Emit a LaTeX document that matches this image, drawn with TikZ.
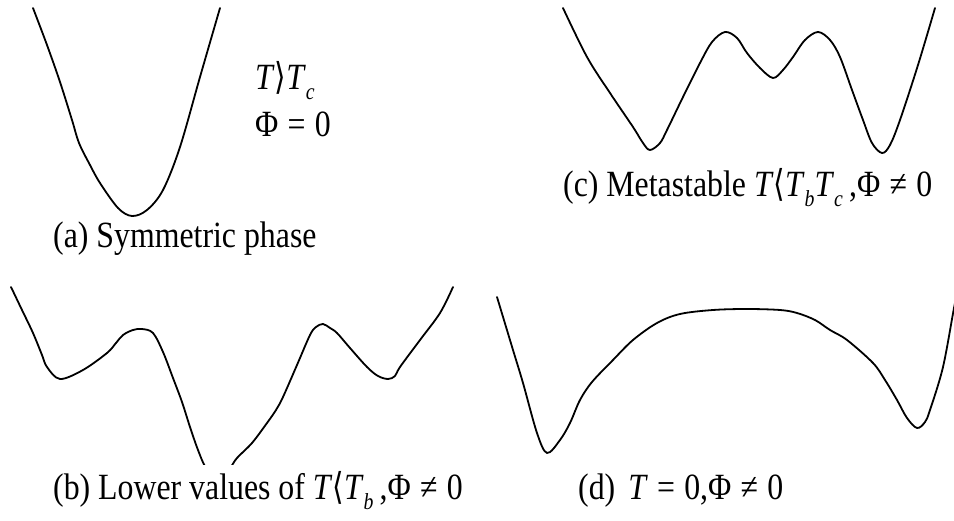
\documentclass[tikz,border=0pt]{standalone}
\usepackage{fontspec}
\setmainfont{Liberation Serif}[FakeStretch=0.86]
\newfontfamily\angfont{DejaVu Sans}[FakeStretch=0.8]
\usepackage{tikz}
\newcommand{\vT}{\textit{T}}
\newcommand{\lowsub}[1]{\raisebox{-0.25em}{\fontsize{23}{25}\selectfont\textit{#1}}}
\newcommand{\rel}[1]{\hspace{0.25em}#1\hspace{0.25em}}
\tikzset{
  wellcurve/.style={line width=1.8pt, line join=round, line cap=round},
  caplabel/.style={anchor=base west, inner sep=0pt, font=\fontsize{37}{44}\selectfont},
}
\begin{document}
\begin{tikzpicture}[x=1pt, y=-1pt]
  \useasboundingbox (0,0) rectangle (954,521);
  % (a) symmetric phase
  \draw[wellcurve] plot[smooth, tension=0.55] coordinates {(33,8) (47,45) (60,82) (72,120) (79,143) (90,165) (100,183) (118,208) (132,216) (147,210) (163,190) (180,147) (200,77) (220,8)};
  \node[caplabel] (tc) at (255,90) {\vT{\angfont ⟩}\vT\lowsub{c}};
  \node[caplabel] (phi) at (255,137) {Φ\rel{=}0};
  \node[caplabel] (capa) at (53,248) {(a) Symmetric phase};
  % (c) metastable
  \draw[wellcurve] plot[smooth, tension=0.55] coordinates {(563,8) (587,57) (610,93) (633,127) (643,143) (650,150) (660,143) (667,130) (683,97) (700,63) (712,42) (725,32) (737,38) (747,53) (760,68) (773,78) (783,70) (793,57) (805,40) (818,32) (830,40) (840,57) (852,90) (863,120) (872,143) (882,153) (890,145) (900,120) (918,65) (935,8)};
  \node[caplabel] (capc) at (563,197) {(c) Metastable \vT{\angfont ⟨}\vT\lowsub{b}\vT\lowsub{c}\,,Φ\rel{≠}0};
  % (b) lower values
  \begin{scope}
    \clip (0,0) rectangle (954,465);
    \draw[wellcurve] plot[smooth, tension=0.55] coordinates {(11,287) (22,310) (33,333) (42,355) (47,367) (60,379) (83,370) (107,353) (116,343) (123,335) (133,330) (142,329) (153,333) (163,352) (173,378) (182,402) (190,427) (198,450) (206,468) (218,480) (230,468) (237,458) (252,443) (267,423) (276,410) (283,397) (297,365) (310,335) (316,327) (323,324) (330,328) (337,333) (350,348) (367,367) (378,376) (388,379) (395,376) (400,367) (420,340) (440,313) (453,287)};
  \end{scope}
  \node[caplabel] (capb) at (53,500) {(b) Lower values of \vT{\angfont ⟨}\vT\lowsub{b}\,,Φ\rel{≠}0};
  % (d) T = 0
  \begin{scope}
    \clip (0,0) rectangle (954,521);
    \draw[wellcurve] plot[smooth, tension=0.55] coordinates {(497,297) (513,350) (523,383) (537,433) (547,453) (560,440) (570,423) (580,400) (592,382) (613,360) (633,340) (657,323) (680,314) (713,310) (747,309) (780,310) (797,313) (815,320) (830,330) (847,340) (873,363) (885,380) (897,400) (907,418) (917,428) (925,422) (930,410) (943,367) (954,308) (958,290)};
  \end{scope}
  \node[caplabel] (capd) at (578,500) {(d)\hspace{0.35em}\vT\rel{=}0,Φ\rel{≠}0};
\end{tikzpicture}
\end{document}
